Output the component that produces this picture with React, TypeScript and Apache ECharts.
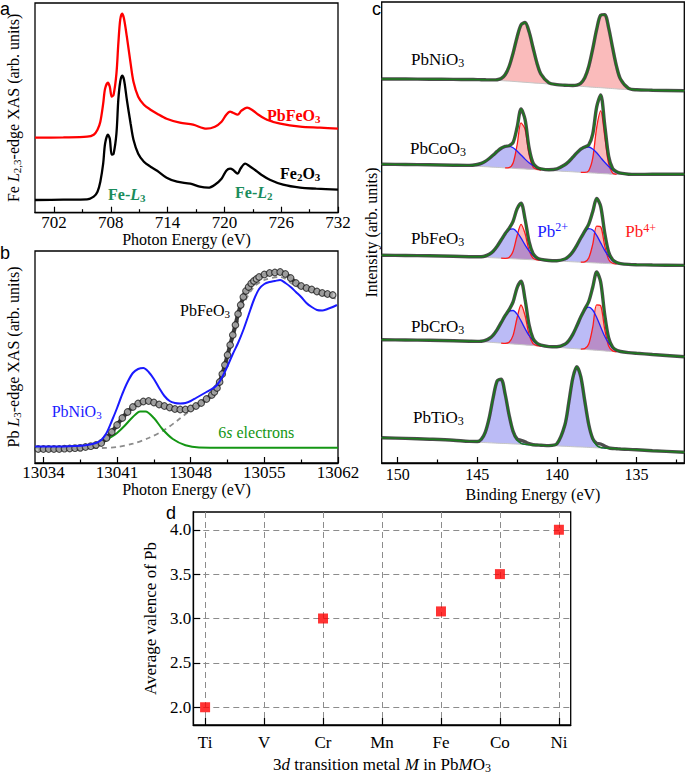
import React, { useEffect, useRef } from 'react';
import * as echarts from 'echarts';

const SERIF = "'Liberation Serif', 'Times New Roman', serif";
const SANS = "'Liberation Sans', Arial, sans-serif";

// ---------------- Panel a : Fe L2,3-edge XAS ----------------
const A_TICKS = [702, 708, 714, 720, 726, 732];
const A_MINOR = [705, 711, 717, 723, 729];
const FE2O3_E = [700, 703, 705.5, 706.2, 706.6, 706.9, 707.2, 707.4, 707.7, 707.9, 708.1, 708.3, 708.6, 708.8, 709.0, 709.2, 709.4, 709.7, 710.1, 710.4, 710.9, 711.5, 712.2, 712.9, 713.9, 715, 716.4, 717.4, 718.3, 719, 719.7, 720.2, 720.6, 720.9, 721.4, 721.7, 722.2, 722.6, 723.2, 723.9, 724.8, 726.2, 728, 729.7, 732];
const FE2O3_I = [12.7, 13.0, 13.3, 16, 21, 31, 49, 69, 78, 74, 58, 59, 79, 113, 131, 137, 133, 113, 89, 73, 59, 51, 46, 42, 35, 31, 29, 26, 25, 28, 34, 42, 44, 43, 39, 44, 49, 47, 43, 38, 33, 28, 25, 24, 23];
const PBFEO3_A_E = [700, 703, 705.5, 706.2, 706.6, 706.9, 707.2, 707.4, 707.7, 707.9, 708.1, 708.3, 708.6, 708.8, 709.0, 709.2, 709.4, 709.7, 710.1, 710.4, 710.9, 711.5, 712.2, 712.9, 713.9, 715.3, 716.7, 718.1, 719, 719.7, 720.2, 720.6, 720.9, 721.4, 721.8, 722.4, 722.9, 723.6, 724.5, 725.9, 728, 730.1, 732];
const PBFEO3_A_I = [75, 75.3, 76, 78, 83, 91, 109, 124, 130, 126, 116, 118, 139, 169, 193, 199, 194, 176, 149, 131, 116, 108, 103, 99, 94, 90, 88, 84, 86, 91, 98, 101, 100, 98, 102, 105, 103, 98, 93, 89, 86, 85, 84];

// ---------------- Panel b : Pb L3-edge XAS ----------------
const B_TICKS = [13034, 13041, 13048, 13055, 13062];
const B_MINOR = [13037.5, 13044.5, 13051.5, 13058.5];
const PBFEO3_B_E = [13033.5, 13034, 13034.5, 13035, 13035.5, 13036, 13036.5, 13037, 13037.5, 13038, 13038.5, 13039, 13039.5, 13040, 13040.5, 13041, 13041.5, 13042, 13042.5, 13043, 13043.5, 13044, 13044.5, 13045, 13045.5, 13046, 13046.5, 13047, 13047.5, 13048, 13048.5, 13049, 13049.5, 13050, 13050.25, 13050.5, 13050.75, 13051, 13051.25, 13051.5, 13051.75, 13052, 13052.25, 13052.5, 13052.75, 13053, 13053.25, 13053.5, 13053.75, 13054, 13054.25, 13054.5, 13055, 13055.5, 13056, 13056.5, 13057, 13057.5, 13058, 13058.5, 13059, 13059.5, 13060, 13060.5, 13061, 13061.5];
const PBFEO3_B_I = [14, 14, 14, 14, 14, 14.3, 14.5, 14.8, 15.2, 16, 16.8, 18, 20, 25, 31, 38, 45, 51, 56, 59.5, 61.5, 62, 60.5, 58.5, 57, 55.5, 54, 53.5, 53.5, 54.5, 57, 60, 64, 68, 71, 75, 81, 89, 98, 108, 118, 128, 138, 149, 158, 166, 172, 176, 179.5, 182, 184, 186, 188.5, 190, 190.5, 191, 189, 185, 180, 177, 175, 173.5, 171.5, 170, 169, 168];
const PBNIO3_B_E = [13033.2, 13035, 13037, 13038, 13039, 13039.5, 13040, 13040.5, 13041, 13041.5, 13042, 13042.5, 13043, 13043.5, 13044, 13044.5, 13045, 13045.5, 13046, 13046.5, 13047, 13047.5, 13048, 13048.5, 13049, 13049.5, 13050, 13050.5, 13051, 13051.5, 13052, 13052.5, 13053, 13053.5, 13054, 13054.5, 13055, 13055.5, 13056, 13056.5, 13057, 13057.5, 13058, 13058.5, 13059, 13059.5, 13060, 13060.5, 13061, 13061.5, 13061.9];
const PBNIO3_B_I = [16.5, 16.5, 17, 17.7, 20, 23, 30, 42, 55, 69, 81, 90, 94, 95, 91, 84, 75, 67, 62, 60, 59.5, 60, 62, 65, 68, 71, 74, 78, 86, 97, 109, 120, 133, 148, 163, 174, 179, 181, 182, 183, 180, 176, 171, 166, 160, 156, 153, 152.5, 154, 156, 158];
const SIXS_E = [13033.2, 13037, 13038.5, 13039.4, 13040.3, 13041, 13041.7, 13042.5, 13043.2, 13043.7, 13044.5, 13045.3, 13046.3, 13047.5, 13048.8, 13052, 13062];
const SIXS_I = [15.3, 15.5, 16.5, 19, 25, 30, 37, 46, 51.5, 51.5, 45, 34, 24, 17.7, 15.5, 15.3, 15.2];
const STEP_E = [13037, 13039.5, 13041, 13042.5, 13044, 13045.5, 13046.8, 13048, 13049, 13050, 13051, 13052, 13053, 13054, 13055, 13056.5, 13058, 13060, 13061.9];
const STEP_I = [14.5, 15, 16, 19.3, 25, 33, 43, 53, 61, 71, 92, 124, 158, 176, 183, 186, 177, 170, 164];

// ---------------- Panel c : Pb 4f XPS ----------------
const C_TICKS = [135, 140, 145, 150];
const C_MINOR = [132.5, 137.5, 142.5, 147.5];
const BE = [151, 149.5, 148, 146.5, 145.5, 145, 144.75, 144.5, 144.25, 144, 143.75, 143.5, 143.25, 143, 142.75, 142.5, 142.25, 142, 141.75, 141.5, 141.25, 141, 140.5, 140, 139.5, 139.25, 139, 138.75, 138.5, 138.25, 138, 137.75, 137.5, 137.25, 137, 136.75, 136.5, 136.25, 136, 135.5, 135, 134, 132];
const NI_BG = [384, 384, 383.8, 383.6, 383.5, 383.4, 383.3, 383.2, 383.1, 383, 382.7, 382.4, 382.1, 381.9, 381.6, 381.3, 381.0, 380.7, 380.4, 380.1, 379.8, 379.6, 379.0, 378.4, 377.8, 377.6, 377.3, 377.0, 376.7, 376.4, 376.1, 375.8, 375.5, 375.3, 375.0, 374.7, 374.4, 374.1, 373.8, 373.5, 373.2, 372.8, 372.3];
const NI_RED = [0, 0, 0, 0, 0, 0, 0, 0, 0, 0.1, 0.6, 2.1, 6.2, 14.6, 28.3, 44.5, 57.2, 59.8, 51.0, 35.4, 20.0, 9.2, 1.1, 0, 0, 0, 0.2, 0.9, 3.1, 8.8, 20.4, 38.3, 58.3, 72.5, 73.4, 60.5, 40.7, 22.2, 9.9, 1.1, 0, 0, 0];
const CO_BG = [298.7, 298.5, 298.2, 297.8, 297.2, 296.8, 296.5, 296.3, 296.1, 295.8, 295.6, 295.4, 295.1, 294.9, 294.7, 294.4, 294.2, 294.0, 293.7, 293.5, 293.3, 293.0, 292.6, 292.1, 291.6, 291.4, 291.2, 290.9, 290.7, 290.5, 290.2, 290.0, 289.8, 289.5, 289.3, 289.1, 288.8, 288.7, 288.6, 288.6, 288.6, 288.7, 288.8];
const CO_BLUE = [0, 0, 0, 0, 0.4, 1.7, 3.1, 5.3, 8.4, 12.1, 16.0, 19.4, 21.5, 21.9, 20.5, 17.6, 13.8, 9.9, 6.6, 4.0, 2.2, 1.2, 0.7, 2.1, 6.6, 10.2, 14.6, 19.2, 23.1, 25.5, 25.8, 24.0, 20.4, 15.9, 11.4, 7.5, 4.5, 2.5, 1.2, 0.2, 0, 0, 0];
const CO_RED = [0, 0, 0, 0, 0, 0, 0, 0, 0, 0, 0, 0, 0, 0.5, 5.3, 23.5, 46.0, 39.7, 15.1, 2.5, 0.2, 0, 0, 0, 0, 0, 0, 0, 0, 0.1, 2.1, 14.8, 45.9, 62.6, 37.7, 10.0, 1.1, 0, 0, 0, 0, 0, 0];
const FE_BG = [207.7, 207.5, 207.2, 206.8, 206.3, 206.0, 205.8, 205.6, 205.4, 205.2, 205.0, 204.8, 204.6, 204.4, 204.2, 204.0, 203.8, 203.6, 203.4, 203.2, 203.0, 202.8, 202.4, 202.0, 201.6, 201.4, 201.2, 201.0, 200.8, 200.6, 200.4, 200.2, 200.0, 199.8, 199.6, 199.4, 199.2, 199.0, 198.8, 198.5, 198.3, 198.0, 197.6];
const FE_BLUE = [0, 0, 0, 0, 0, 0.2, 0.5, 1.4, 3.3, 6.6, 11.8, 18.2, 24.6, 29.0, 29.9, 26.9, 21.1, 14.5, 8.7, 4.6, 2.1, 0.8, 0.1, 0.3, 2.4, 5.3, 10.1, 16.7, 24.2, 30.6, 33.9, 32.7, 27.6, 20.3, 13.1, 7.3, 3.6, 1.5, 0.6, 0.1, 0, 0, 0];
const FE_RED = [0, 0, 0, 0, 0, 0, 0, 0, 0, 0, 0, 0, 0.1, 1.2, 7.6, 23.2, 34.9, 25.9, 9.5, 1.7, 0.1, 0, 0, 0, 0, 0, 0, 0, 0, 0.6, 4.6, 18.4, 36.9, 36.4, 17.6, 4.2, 0.5, 0, 0, 0, 0, 0, 0];
const CR_BG = [123.2, 123.0, 122.7, 122.3, 121.8, 121.4, 121.2, 121.0, 120.8, 120.5, 120.2, 119.9, 119.6, 119.3, 119.0, 118.7, 118.4, 118.1, 117.8, 117.5, 117.2, 116.9, 116.3, 115.7, 115.1, 114.8, 114.5, 114.2, 113.9, 113.6, 113.3, 113.0, 112.7, 112.4, 112.1, 111.8, 111.5, 111.2, 110.9, 110.3, 109.7, 108.5, 106.3];
const CR_BLUE = [0, 0, 0, 0, 0, 0.2, 0.6, 1.6, 3.7, 7.4, 13.2, 20.4, 27.6, 32.6, 33.5, 30.2, 23.7, 16.3, 9.7, 5.1, 2.3, 0.9, 0.1, 0.5, 3.6, 7.6, 14.1, 22.8, 32.2, 39.6, 42.6, 40.0, 32.8, 23.6, 14.7, 8.1, 3.8, 1.6, 0.6, 0.1, 0, 0, 0];
const CR_RED = [0, 0, 0, 0, 0, 0, 0, 0, 0, 0, 0, 0, 0.1, 1.4, 8.6, 26.3, 39.6, 29.4, 10.8, 1.9, 0.2, 0, 0, 0, 0, 0, 0, 0, 0, 0.7, 5.6, 22.8, 45.5, 44.9, 21.8, 5.2, 0.6, 0, 0, 0, 0, 0, 0];
const TI_BG = [25.3, 24.6, 23.8, 22.8, 21.6, 20.8, 20.6, 20.4, 20.2, 20.0, 19.8, 19.6, 19.5, 19.3, 19.1, 18.9, 18.7, 18.5, 18.3, 18.2, 18.0, 17.8, 17.4, 17.1, 16.7, 16.5, 16.3, 16.1, 16.0, 15.8, 15.6, 15.4, 15.2, 15.0, 14.9, 14.7, 14.5, 14.3, 14.0, 13.6, 13.2, 12.3, 10.7];
const TI_BLUE = [0, 0, 0, 0, 0, 0.7, 3.1, 10.2, 24.9, 45.5, 62.3, 64.1, 49.5, 28.7, 12.5, 4.1, 1.0, 0.2, 0, 0, 0, 0, 0, 2.1, 21.3, 44.2, 68.7, 80.2, 70.3, 46.3, 22.9, 8.5, 2.4, 0.5, 0.1, 0, 0, 0, 0, 0, 0, 0, 0];
const TI_RES = [0, 0, 0, 0, 0, 0, 0, 0, 0, 0, 0, 0, 0, 0, 0, 1, 3, 2.5, 1, 0, 0, 0, 0, 0, 0, 0, 0, 0, 0, 0, 0, 0.5, 2, 3.5, 2, 0.5, 0, 0, 0, 0, 0, 0, 0];
const C_NAMES = ['PbNiO', 'PbCoO', 'PbFeO', 'PbCrO', 'PbTiO'];

// ---------------- Panel d : Pb valence ----------------
const METALS = ['Ti', 'V', 'Cr', 'Mn', 'Fe', 'Co', 'Ni'];
const D_METALS = ['Ti', 'Cr', 'Fe', 'Co', 'Ni'];
const D_VALENCE = [2.0, 3.0, 3.08, 3.5, 4.0];
const D_TICKS = [2.0, 2.5, 3.0, 3.5, 4.0];
const D_XTICKS = [0, 1, 2, 3, 4, 5, 6];

const RED = '#ff0000';
const BLUE = '#1a1aff';
const GREEN_B = '#149614';
const GREEN_A = '#1a8c5c';
const FIT_GREEN = '#1b7d1b';

const zip = (xs: number[], ys: number[]) => xs.map((x, i) => [x, ys[i]]);

const tick = (size: number) => ({ fontFamily: SERIF, fontSize: size, color: '#000' });
const makeNameStyle = (size: number) => ({
  fontFamily: SERIF, fontSize: size, color: '#000',
  rich: {
    n: { fontFamily: SERIF, fontSize: size, color: '#000' },
    i: { fontFamily: SERIF, fontSize: size, fontStyle: 'italic', color: '#000' },
    s: { fontFamily: SERIF, fontSize: Math.round(size * 0.7), color: '#000', padding: [7, 0, 0, 0] },
  },
});
const nameStyle = makeNameStyle(16);
const nameStyleD = makeNameStyle(17);

function mainX(grid: number, min: number, max: number, ticks: number[], margin: number, name: string, size: number, inverse = false, gap = 17) {
  return {
    type: 'value', gridIndex: grid, min, max, inverse, position: 'bottom',
    axisLine: { show: true, onZero: false, lineStyle: { color: '#000', width: 1.3 } },
    axisTick: { show: true, inside: true, length: 6, customValues: ticks, lineStyle: { color: '#000', width: 1.2 } },
    axisLabel: { show: true, customValues: ticks, margin, formatter: (v: number) => String(v), ...tick(size) },
    splitLine: { show: false },
    name, nameLocation: 'middle', nameGap: gap, nameTextStyle: nameStyle,
  };
}
function minorX(grid: number, min: number, max: number, ticks: number[], inverse = false) {
  return {
    type: 'value', gridIndex: grid, min, max, inverse, position: 'bottom',
    axisLine: { show: false, onZero: false },
    axisTick: { show: true, inside: true, length: 3.5, customValues: ticks, lineStyle: { color: '#000', width: 1.2 } },
    axisLabel: { show: false },
    splitLine: { show: false },
  };
}
function plainY(grid: number, max: number, name: string, gap: number) {
  return {
    type: 'value', gridIndex: grid, min: 0, max,
    axisLine: { show: false, onZero: false }, axisTick: { show: false }, axisLabel: { show: false }, splitLine: { show: false },
    name, nameLocation: 'middle', nameRotate: 90, nameGap: gap, nameTextStyle: nameStyle,
  };
}

// ---- panel c helpers (components summed point by point, fills drawn through the axes) ----
const ZERO = BE.map(() => 0);
const add = (...arrs: number[][]) => BE.map((_, i) => arrs.reduce((s, a) => s + a[i], 0));
const isOn = (peak: number[], i: number) =>
  peak[i] > 0.05 || (peak[i - 1] ?? 0) > 0.05 || (peak[i + 1] ?? 0) > 0.05;

function runs(peak: number[]): [number, number][] {
  const out: [number, number][] = [];
  let start = -1;
  for (let i = 0; i < peak.length; i++) {
    const on = isOn(peak, i);
    if (on && start < 0) start = i;
    if (!on && start >= 0) { out.push([start, i - 1]); start = -1; }
  }
  if (start >= 0) out.push([start, peak.length - 1]);
  return out;
}

function fillSeries(bg: number[], peak: number[], color: string) {
  const upper = add(bg, peak);
  const segs = runs(peak);
  return {
    type: 'custom', xAxisIndex: 4, yAxisIndex: 2, silent: true, z: 2,
    data: [[141, 200]],
    renderItem: (_p: any, api: any) => ({
      type: 'group',
      children: segs.map(([a, b]) => {
        const top: number[][] = [];
        const bot: number[][] = [];
        for (let i = a; i <= b; i++) {
          top.push(api.coord([BE[i], upper[i]]));
          bot.push(api.coord([BE[i], bg[i]]));
        }
        const points = top.concat(bot.reverse());
        const xs = points.map((p) => p[0]);
        const ys = points.map((p) => p[1]);
        const box = [[Math.min(...xs), Math.min(...ys)], [Math.max(...xs), Math.max(...ys)]];
        return { type: 'polygon', shape: { points, smooth: 0.3, smoothConstraint: box }, style: { fill: color } };
      }),
    }),
  };
}

// outline of one component: only the runs where it is non-zero, separated by a gap
function outlineData(bg: number[], peak: number[]) {
  const out: any[] = [];
  runs(peak).forEach(([a, b], k) => {
    if (k > 0) out.push([(BE[a - 1] + BE[a]) / 2, '-']);
    for (let i = a; i <= b; i++) out.push([BE[i], bg[i] + peak[i]]);
  });
  return out;
}

const cLine = (data: any[], lineStyle: any, z: number) => ({
  type: 'line', xAxisIndex: 4, yAxisIndex: 2, data, symbol: 'none', showSymbol: false,
  smooth: 0.3, silent: true, z, lineStyle, connectNulls: false,
});

function panelCSeries(): any[] {
  const specs = [
    { bg: NI_BG, blue: null, red: NI_RED, res: null },
    { bg: CO_BG, blue: CO_BLUE, red: CO_RED, res: null },
    { bg: FE_BG, blue: FE_BLUE, red: FE_RED, res: null },
    { bg: CR_BG, blue: CR_BLUE, red: CR_RED, res: null },
    { bg: TI_BG, blue: TI_BLUE, red: null, res: TI_RES },
  ];
  const out: any[] = [];
  specs.forEach((sp) => {
    const blue = sp.blue || ZERO;
    const red = sp.red || ZERO;
    const res = sp.res || ZERO;
    if (sp.red) out.push(fillSeries(sp.bg, sp.red, 'rgba(240,60,60,0.35)'));
    if (sp.blue) out.push(fillSeries(sp.bg, sp.blue, 'rgba(60,60,230,0.35)'));
    out.push(cLine(zip(BE, sp.bg), { color: '#c4c4c4', width: 1 }, 3));
    if (sp.red) out.push(cLine(outlineData(sp.bg, red), { color: '#ff1a1a', width: 1.3 }, 3));
    if (sp.blue) out.push(cLine(outlineData(sp.bg, blue), { color: '#1f1fff', width: 1.3 }, 3));
    out.push(cLine(zip(BE, add(sp.bg, blue, red, res)), { color: '#3a3a3a', width: 3.4, opacity: 0.9 }, 4));
    out.push(cLine(zip(BE, add(sp.bg, blue, red)), { color: FIT_GREEN, width: 1.4 }, 5));
  });
  return out;
}

function txt(x: number, y: number, text: string, color: string, size: number, bold = false) {
  const fw = bold ? 'bold' : 'normal';
  return {
    type: 'text', x, y, silent: true, z: 50,
    style: {
      text, fill: color, fontFamily: SERIF, fontSize: size, fontWeight: fw, align: 'left', verticalAlign: 'middle',
      rich: {
        n: { fontFamily: SERIF, fontSize: size, fontWeight: fw, fill: color },
        i: { fontFamily: SERIF, fontSize: size, fontWeight: fw, fontStyle: 'italic', fill: color },
        s: { fontFamily: SERIF, fontSize: Math.round(size * 0.68), fontWeight: fw, fill: color, padding: [7, 0, 0, 0] },
        p: { fontFamily: SERIF, fontSize: Math.round(size * 0.68), fontWeight: fw, fill: color, padding: [0, 0, 8, 0] },
      },
    },
  };
}
function panelLetter(x: number, y: number, t: string) {
  return { type: 'text', x, y, silent: true, z: 50, style: { text: t, fill: '#000', fontFamily: SANS, fontSize: 18, align: 'left', verticalAlign: 'middle' } };
}

export default function App() {
  const ref = useRef<HTMLDivElement>(null);
  useEffect(() => {
    if (!ref.current) return;
    const chart = echarts.init(ref.current, undefined, { renderer: 'svg' });
    const cLabelY = [59.2, 148.7, 238.8, 326.3, 417.8];
    const cLabelX = [411, 410, 411, 411, 413];
    const option: any = {
      animation: false,
      textStyle: { fontFamily: SERIF },
      grid: [
        { left: 35, top: 3, width: 303, height: 209.7, show: true, borderColor: '#000', borderWidth: 1.3, backgroundColor: 'transparent' },
        { left: 35, top: 251, width: 303, height: 212, show: true, borderColor: '#000', borderWidth: 1.3, backgroundColor: 'transparent' },
        { left: 381.7, top: 2, width: 302.6, height: 461, show: true, borderColor: '#000', borderWidth: 1.3, backgroundColor: 'transparent' },
        { left: 193.3, top: 512, width: 377.4, height: 213, show: true, borderColor: '#000', borderWidth: 1.3, backgroundColor: 'transparent' },
      ],
      xAxis: [
        mainX(0, 700, 732, A_TICKS, 1, 'Photon Energy (eV)', 17, false, 17),
        minorX(0, 700, 732, A_MINOR),
        mainX(1, 13033.2, 13062, B_TICKS, 0.5, 'Photon Energy (eV)', 17, false, 17.5),
        minorX(1, 13033.2, 13062, B_MINOR),
        mainX(2, 132, 151, C_TICKS, 3, 'Binding Energy (eV)', 16, true, 17.5),
        minorX(2, 132, 151, C_MINOR, true),
        {
          type: 'value', gridIndex: 3, min: -0.2, max: 6.2, splitNumber: 5, position: 'bottom',
          axisLine: { show: true, onZero: false, lineStyle: { color: '#000', width: 1.3 } },
          axisTick: { show: true, inside: true, length: 7, customValues: D_XTICKS, lineStyle: { color: '#000', width: 1.2 } },
          axisLabel: { show: true, customValues: D_XTICKS, margin: 8.5, formatter: (v: number) => METALS[Math.round(v)] || '', ...tick(17) },
          splitLine: { show: true, lineStyle: { color: '#8c8c8c', width: 1, type: [6, 4] } },
          name: '{n|3}{i|d}{n| transition metal }{i|M}{n| in Pb}{i|M}{n|O}{s|3}', nameLocation: 'middle', nameGap: 30, nameTextStyle: nameStyleD,
        },
      ],
      yAxis: [
        plainY(0, 209.7, '{n|Fe }{i|L}{s|2,3}{n|-edge XAS (arb. units)}', 13),
        plainY(1, 212, '{n|Pb }{i|L}{s|3}{n|-edge XAS (arb. units)}', 13),
        plainY(2, 461, 'Intensity (arb. units)', 2),
        {
          type: 'value', gridIndex: 3, min: 1.8, max: 4.2, splitNumber: 5,
          axisLine: { show: true, onZero: false, lineStyle: { color: '#000', width: 1.3 } },
          axisTick: { show: true, inside: true, length: 7, customValues: D_TICKS, lineStyle: { color: '#000', width: 1.2 } },
          axisLabel: { show: true, customValues: D_TICKS, margin: 2, formatter: (v: number) => v.toFixed(1), ...tick(17) },
          splitLine: { show: true, lineStyle: { color: '#8c8c8c', width: 1, type: [6, 4] } },
          name: 'Average valence of Pb', nameLocation: 'middle', nameRotate: 90, nameGap: 31, nameTextStyle: nameStyleD,
        },
      ],
      series: [
        // panel a
        { type: 'line', xAxisIndex: 0, yAxisIndex: 0, data: zip(FE2O3_E, FE2O3_I), symbol: 'none', smooth: 0.3, lineStyle: { color: '#000', width: 2.3 }, silent: true },
        { type: 'line', xAxisIndex: 0, yAxisIndex: 0, data: zip(PBFEO3_A_E, PBFEO3_A_I), symbol: 'none', smooth: 0.3, lineStyle: { color: RED, width: 2.3 }, silent: true },
        // panel b
        { type: 'line', xAxisIndex: 2, yAxisIndex: 1, data: zip(STEP_E, STEP_I), symbol: 'none', smooth: 0.3, lineStyle: { color: '#8c8c8c', width: 1.8, type: [5, 4] }, silent: true, z: 2 },
        { type: 'line', xAxisIndex: 2, yAxisIndex: 1, data: zip(SIXS_E, SIXS_I), symbol: 'none', smooth: 0.3, lineStyle: { color: GREEN_B, width: 2 }, silent: true, z: 2 },
        { type: 'line', xAxisIndex: 2, yAxisIndex: 1, data: zip(PBFEO3_B_E, PBFEO3_B_I), symbol: 'none', smooth: 0.3, lineStyle: { color: '#3a3a3a', width: 4 }, silent: true, z: 3 },
        { type: 'scatter', xAxisIndex: 2, yAxisIndex: 1, data: zip(PBFEO3_B_E, PBFEO3_B_I), symbol: 'circle', symbolSize: 6.5, itemStyle: { color: '#b5b5b5', borderColor: '#222', borderWidth: 1.2 }, silent: true, z: 3 },
        { type: 'line', xAxisIndex: 2, yAxisIndex: 1, data: zip(PBNIO3_B_E, PBNIO3_B_I), symbol: 'none', smooth: 0.3, lineStyle: { color: BLUE, width: 2 }, silent: true, z: 4 },
        // panel c
        ...panelCSeries(),
        // panel d
        { type: 'scatter', xAxisIndex: 6, yAxisIndex: 3, data: D_METALS.map((m, i) => [METALS.indexOf(m), D_VALENCE[i]]), symbol: 'rect', symbolSize: 10, itemStyle: { color: RED }, silent: true, z: 5 },
      ],
      graphic: [
        panelLetter(0, 9, 'a'),
        panelLetter(0, 253.4, 'b'),
        panelLetter(372, 9, 'c'),
        panelLetter(166, 513, 'd'),
        txt(267, 115.3, '{n|PbFeO}{s|3}', RED, 16, true),
        txt(280, 173.3, '{n|Fe}{s|2}{n|O}{s|3}', '#000', 16, true),
        txt(108, 194.3, '{n|Fe-}{i|L}{s|3}', GREEN_A, 16, true),
        txt(235, 192.3, '{n|Fe-}{i|L}{s|2}', GREEN_A, 16, true),
        txt(180, 310, '{n|PbFeO}{s|3}', '#000', 16),
        txt(51.7, 411, '{n|PbNiO}{s|3}', BLUE, 16),
        txt(218.3, 432, '{n|6}{i|s}{n| electrons}', GREEN_B, 16),
        ...C_NAMES.map((nm, k) => txt(cLabelX[k], cLabelY[k], `{n|${nm}}{s|3}`, '#000', 17)),
        txt(537.3, 231.3, '{n|Pb}{p|2+}', BLUE, 17),
        txt(625.3, 231.8, '{n|Pb}{p|4+}', '#ff1a1a', 17),
      ],
    };
    chart.setOption(option);
    return () => chart.dispose();
  }, []);
  return <div ref={ref} style={{ position: 'absolute', left: 0, top: 0, width: 685, height: 775, background: '#fff' }} />;
}
